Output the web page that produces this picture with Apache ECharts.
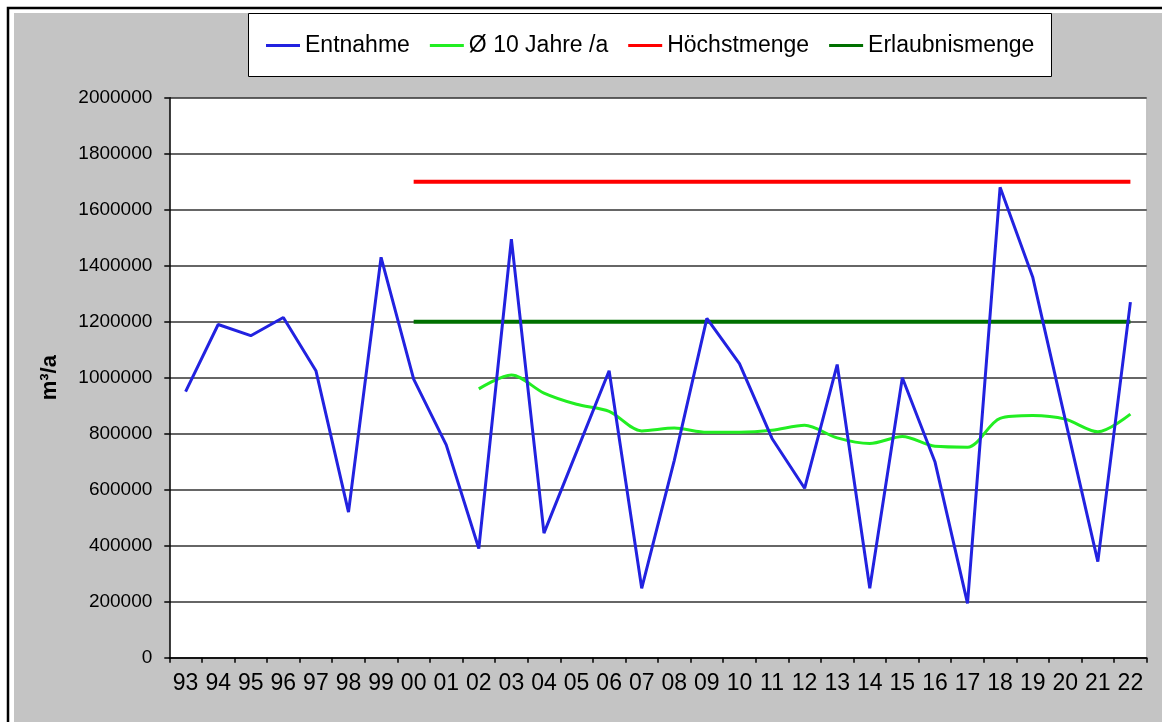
<!DOCTYPE html>
<html>
<head>
<meta charset="utf-8">
<script src="https://cdn.jsdelivr.net/npm/echarts@6/dist/echarts.min.js"></script>
<style>
html,body{margin:0;padding:0;background:#fff;}
#chart{width:1162px;height:722px;}
</style>
</head>
<body>
<div id="chart"></div>
<script>
var years = ['93','94','95','96','97','98','99','00','01','02','03','04','05','06','07','08','09','10','11','12','13','14','15','16','17','18','19','20','21','22'];
var entnahme = [950000,1190000,1150000,1215000,1025000,520000,1430000,995000,760000,390000,1495000,445000,735000,1025000,248000,705000,1212000,1050000,783000,605000,1047000,248000,1000000,700000,194000,1680000,1360000,850000,343000,1270000];
var mittel10 = [null,null,null,null,null,null,null,null,null,960000,1010000,945000,905000,880000,810000,820000,805000,805000,812000,830000,785000,765000,790000,755000,752000,855000,865000,852000,807000,870000];
var hoechstmenge = [null,null,null,null,null,null,null,1700000,1700000,1700000,1700000,1700000,1700000,1700000,1700000,1700000,1700000,1700000,1700000,1700000,1700000,1700000,1700000,1700000,1700000,1700000,1700000,1700000,1700000,1700000];
var erlaubnismenge = [null,null,null,null,null,null,null,1200000,1200000,1200000,1200000,1200000,1200000,1200000,1200000,1200000,1200000,1200000,1200000,1200000,1200000,1200000,1200000,1200000,1200000,1200000,1200000,1200000,1200000,1200000];
var seriesNames = ['Entnahme','Ø 10 Jahre /a','Höchstmenge','Erlaubnismenge'];
var yTicks = {min:0, max:2000000, interval:200000};

var chart = echarts.init(document.getElementById('chart'), null, {renderer:'canvas'});
var font = '"Liberation Sans", Arial, sans-serif';
chart.setOption({
  animation:false,
  backgroundColor:'#ffffff',
  textStyle:{fontFamily:font},
  graphic:[
    {type:'rect', z:-10, shape:{x:14,y:13,width:1200,height:800}, style:{fill:'#c4c4c4'}},
    {type:'rect', z:-9, shape:{x:8,y:8,width:1200,height:800}, style:{fill:null, stroke:'#000', lineWidth:2.5}},
    {type:'rect', z:-8, shape:{x:248.5,y:13.5,width:803,height:63}, style:{fill:'#fff', stroke:'#000', lineWidth:1}}
  ],
  legend:{
    data:seriesNames,
    left:266, top:34, padding:0,
    itemWidth:34, itemHeight:3, itemGap:20,
    icon:'rect',
    textStyle:{fontSize:23, color:'#000', fontFamily:font}
  },
  grid:{left:169.3, right:15.3, top:97.7, bottom:64.3, show:true, backgroundColor:'#fff', borderColor:'#bbb', borderWidth:1, containLabel:false},
  xAxis:{
    type:'category', data:years, boundaryGap:true,
    axisLine:{lineStyle:{color:'#000', width:1.5}},
    axisTick:{show:true, alignWithLabel:false, length:5, lineStyle:{color:'#000', width:1.5}},
    axisLabel:{interval:0, fontSize:23, color:'#000', margin:14, fontFamily:font},
    splitLine:{show:false}
  },
  yAxis:{
    type:'value', min:yTicks.min, max:yTicks.max, interval:yTicks.interval,
    name:'m³/a', nameLocation:'middle', nameRotate:90, nameGap:108,
    nameTextStyle:{fontSize:22, fontWeight:'bold', color:'#000', fontFamily:font},
    axisLine:{show:true, lineStyle:{color:'#000', width:1.5}},
    axisTick:{show:true, length:5, lineStyle:{color:'#000', width:1.5}},
    axisLabel:{fontSize:19, color:'#000', margin:17, fontFamily:font, formatter:function(v){return String(v);}},
    splitLine:{show:true, lineStyle:{color:'#333', width:1.5}}
  },
  series:[
    {name:seriesNames[0], type:'line', data:entnahme, symbol:'none', z:5, color:'#2222e0', lineStyle:{color:'#2222e0', width:3}},
    {name:seriesNames[1], type:'line', data:mittel10, symbol:'none', smooth:0.3, z:4, color:'#22ee22', lineStyle:{color:'#22ee22', width:3}},
    {name:seriesNames[2], type:'line', data:hoechstmenge, symbol:'none', z:3, color:'#ff0000', lineStyle:{color:'#ff0000', width:4}},
    {name:seriesNames[3], type:'line', data:erlaubnismenge, symbol:'none', z:3, color:'#007000', lineStyle:{color:'#007000', width:4}}
  ]
});
</script>
</body>
</html>
